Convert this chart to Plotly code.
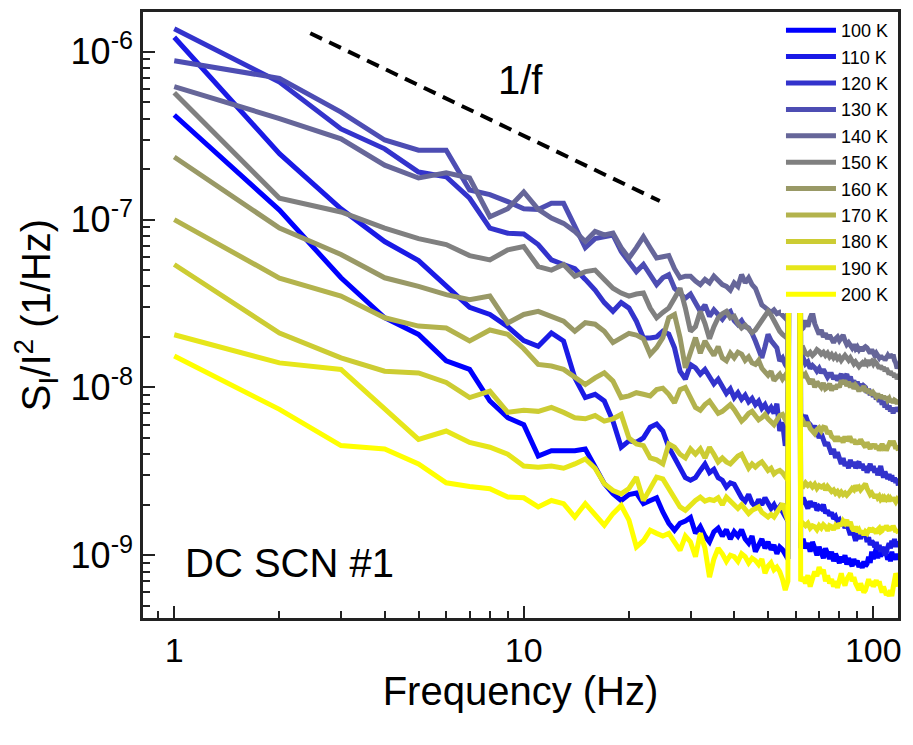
import plotly.graph_objects as go

# ---------------- data ----------------
freq = list(range(1, 119))  # Hz, 1 Hz bins

labels = ["100 K", "110 K", "120 K", "130 K", "140 K", "150 K",
          "160 K", "170 K", "180 K", "190 K", "200 K"]

s100 = [4.2e-7, 1.14e-7, 4.5e-8, 2.6e-8, 2.07e-8, 1.44e-8, 1.28e-8, 8.3e-9, 6.6e-9, 6.0e-9,
        3.9e-9, 4.2e-9, 4.2e-9, 4.2e-9, 4.3e-9, 3.3e-9, 2.67e-9, 2.33e-9, 2.12e-9, 2.3e-9,
        2.35e-9, 2.03e-9, 2.12e-9, 2.2e-9, 1.81e-9, 1.55e-9, 1.41e-9, 1.55e-9, 1.6e-9, 1.68e-9,
        1.35e-9, 1.48e-9, 1.3e-9, 1.2e-9, 1.38e-9, 1.45e-9, 1.3e-9, 1.42e-9, 1.25e-9, 1.38e-9,
        1.3e-9, 1.42e-9, 1.25e-9, 1.18e-9, 1.3e-9, 1.05e-9, 1.15e-9, 1.25e-9, 1.1e-9, 1.2e-9,
        1.08e-9, 1.15e-9, 1.02e-9, 1.12e-9, 1.08e-9, 1.0e-9, 9.5e-10,
        1e-4, 1e-4, 1e-4, 1e-4,
        1.1e-9, 1.25e-9, 1.1e-9, 1.18e-9, 1.05e-9, 1.2e-9, 1.1e-9, 1.0e-9, 1.12e-9,
        1.05e-9, 9.6e-10, 1.1e-9, 1.0e-9, 9.5e-10, 1.05e-9, 9.2e-10, 1.02e-9, 9.4e-10, 9.0e-10,
        9.8e-10, 9.1e-10, 1.0e-9, 8.8e-10, 9.6e-10, 9.0e-10, 8.6e-10, 9.5e-10, 8.8e-10, 9.3e-10,
        8.5e-10, 9.0e-10, 8.4e-10, 9.2e-10, 8.6e-10, 8.9e-10, 9.8e-10, 9.0e-10, 1.05e-9, 9.5e-10,
        1.02e-9, 1.1e-9, 9.6e-10, 1.05e-9, 9.8e-10, 1.08e-9, 1.0e-9, 1.12e-9, 1.02e-9, 9.4e-10,
        1.0e-9, 9.2e-10, 1.05e-9, 9.6e-10, 1.0e-9, 9.4e-10, 1.02e-9, 9.6e-10]

s110 = [1.22e-6, 2.47e-7, 1.16e-7, 7.4e-8, 5.7e-8, 4.0e-8, 3.0e-8, 2.72e-8, 2.3e-8, 1.9e-8,
        1.76e-8, 2.11e-8, 1.89e-8, 1.14e-8, 8.7e-9, 9.1e-9, 8.3e-9, 6.3e-9, 4.4e-9, 4.8e-9,
        4.7e-9, 5.0e-9, 5.8e-9, 6.05e-9, 5.5e-9, 4.4e-9, 3.8e-9, 3.3e-9, 2.9e-9, 2.8e-9,
        2.9e-9, 3.2e-9, 3.5e-9, 3.1e-9, 3.25e-9, 2.9e-9, 2.8e-9, 2.55e-9, 2.7e-9, 2.65e-9,
        2.4e-9, 2.2e-9, 2.1e-9, 2.3e-9, 2.05e-9, 1.95e-9, 2.15e-9, 2.0e-9, 2.2e-9, 2.05e-9,
        1.9e-9, 2.0e-9, 1.85e-9, 1.95e-9, 1.78e-9, 1.7e-9, 1.6e-9,
        1e-4, 1e-4, 1e-4, 1e-4,
        2.0e-9, 2.2e-9, 2.05e-9, 1.9e-9, 2.1e-9, 1.95e-9, 2.05e-9, 1.85e-9, 1.95e-9,
        1.9e-9, 2.0e-9, 1.78e-9, 1.85e-9, 1.72e-9, 1.8e-9, 1.65e-9, 1.7e-9, 1.58e-9, 1.62e-9,
        1.5e-9, 1.58e-9, 1.45e-9, 1.55e-9, 1.4e-9, 1.32e-9, 1.45e-9, 1.3e-9, 1.22e-9, 1.3e-9,
        1.35e-9, 1.25e-9, 1.38e-9, 1.3e-9, 1.35e-9, 1.2e-9, 1.28e-9, 1.15e-9, 1.22e-9, 1.18e-9,
        1.12e-9, 1.2e-9, 1.08e-9, 1.15e-9, 1.05e-9, 1.12e-9, 1.02e-9, 1.0e-9, 1.05e-9, 1.1e-9,
        1.18e-9, 1.1e-9, 1.22e-9, 1.15e-9, 1.25e-9, 1.12e-9, 1.2e-9, 1.15e-9]

s120 = [1.37e-6, 6.6e-7, 3.47e-7, 2.64e-7, 1.92e-7, 1.8e-7, 1.34e-7, 8.9e-8, 8.3e-8, 8.2e-8,
        7.1e-8, 5.75e-8, 5.4e-8, 5.1e-8, 4.4e-8, 3.8e-8, 3.2e-8, 2.84e-8, 3.2e-8, 2.97e-8,
        2.48e-8, 1.97e-8, 1.97e-8, 2.0e-8, 2.16e-8, 2.08e-8, 1.72e-8, 1.25e-8, 1.12e-8, 1.37e-8,
        1.31e-8, 1.2e-8, 1.28e-8, 1.15e-8, 1.05e-8, 1.12e-8, 1.0e-8, 9.2e-9, 9.8e-9, 8.7e-9,
        9.3e-9, 8.5e-9, 9.0e-9, 8.2e-9, 8.6e-9, 7.9e-9, 8.3e-9, 7.5e-9, 7.9e-9, 7.2e-9,
        7.6e-9, 7.0e-9, 8.0e-9, 5.5e-9, 6.2e-9, 4.5e-9, 5.0e-9,
        1e-4, 1e-4, 1e-4, 1e-4,
        7.0e-9, 6.5e-9, 6.8e-9, 6.2e-9, 6.0e-9, 5.6e-9, 5.9e-9, 5.3e-9, 5.0e-9,
        5.3e-9, 4.8e-9, 4.5e-9, 4.7e-9, 4.2e-9, 4.0e-9, 4.3e-9, 3.8e-9, 4.1e-9, 3.7e-9,
        3.5e-9, 3.8e-9, 3.4e-9, 3.6e-9, 3.3e-9, 3.7e-9, 3.4e-9, 3.6e-9, 3.3e-9, 3.5e-9,
        3.6e-9, 3.3e-9, 3.5e-9, 3.2e-9, 3.4e-9, 3.1e-9, 3.35e-9, 3.5e-9, 3.2e-9, 3.4e-9,
        3.1e-9, 3.3e-9, 3.0e-9, 3.2e-9, 3.4e-9, 3.1e-9, 2.9e-9, 3.15e-9, 3.0e-9, 2.85e-9,
        3.05e-9, 2.8e-9, 3.0e-9, 2.75e-9, 2.9e-9, 2.7e-9, 2.85e-9, 2.6e-9]

s130 = [8.85e-7, 6.95e-7, 4.37e-7, 2.98e-7, 2.59e-7, 2.59e-7, 1.5e-7, 1.41e-7, 1.28e-7, 1.16e-7,
        1.15e-7, 1.25e-7, 1.25e-7, 9.0e-8, 6.8e-8, 7.7e-8, 7.9e-8, 8.1e-8, 6.45e-8, 5.6e-8,
        4.9e-8, 5.4e-8, 4.7e-8, 4.1e-8, 4.5e-8, 4.7e-8, 3.9e-8, 3.6e-8, 3.4e-8, 3.6e-8,
        3.2e-8, 2.84e-8, 3.1e-8, 2.65e-8, 2.9e-8, 2.7e-8, 2.55e-8, 2.75e-8, 2.84e-8, 2.5e-8,
        2.37e-8, 2.5e-8, 2.3e-8, 2.26e-8, 2.1e-8, 1.89e-8, 1.7e-8, 1.5e-8, 1.75e-8, 2.07e-8,
        1.9e-8, 1.8e-8, 1.72e-8, 1.44e-8, 1.5e-8, 1.37e-8, 1.3e-8,
        1e-4, 1e-4, 1e-4, 1e-4,
        1.45e-8, 1.5e-8, 1.38e-8, 1.42e-8, 1.3e-8, 1.35e-8, 1.31e-8, 1.25e-8, 1.3e-8,
        1.22e-8, 1.28e-8, 1.2e-8, 1.15e-8, 1.2e-8, 1.2e-8, 1.12e-8, 1.18e-8, 1.1e-8, 1.15e-8,
        1.2e-8, 1.12e-8, 1.18e-8, 1.2e-8, 1.1e-8, 1.16e-8, 1.05e-8, 1.1e-8, 1.02e-8, 1.08e-8,
        1.0e-8, 1.05e-8, 9.6e-9, 1.02e-8, 1.0e-8, 9.3e-9, 9.8e-9, 9.0e-9, 9.5e-9, 8.8e-9,
        9.2e-9, 8.5e-9, 8.9e-9, 8.2e-9, 8.6e-9, 7.9e-9, 8.3e-9, 7.6e-9, 8.0e-9, 7.4e-9,
        7.8e-9, 7.2e-9, 7.6e-9, 7.0e-9, 7.5e-9, 7.2e-9, 7.6e-9, 7.3e-9]

s140 = [6.2e-7, 4.0e-7, 3.03e-7, 2.11e-7, 1.77e-7, 1.9e-7, 1.77e-7, 1.04e-7, 1.16e-7, 1.46e-7,
        1.15e-7, 1.02e-7, 9.5e-8, 8.5e-8, 7.4e-8, 8.5e-8, 8.1e-8, 8.3e-8, 6.8e-8, 5.9e-8,
        6.8e-8, 7.9e-8, 6.8e-8, 5.9e-8, 6.0e-8, 6.1e-8, 5.1e-8, 4.5e-8, 4.6e-8, 4.6e-8,
        4.3e-8, 4.1e-8, 4.4e-8, 4.2e-8, 4.6e-8, 4.3e-8, 4.1e-8, 4.0e-8, 3.8e-8, 4.2e-8,
        4.0e-8, 4.7e-8, 4.2e-8, 4.5e-8, 4.1e-8, 3.9e-8, 3.4e-8, 3.1e-8, 3.0e-8, 2.9e-8,
        2.8e-8, 2.9e-8, 2.75e-8, 2.8e-8, 2.7e-8, 2.6e-8, 2.5e-8,
        1e-4, 1e-4, 1e-4, 1e-4,
        2.2e-8, 2.26e-8, 2.5e-8, 2.3e-8, 2.6e-8, 2.8e-8, 2.4e-8, 2.2e-8, 2.07e-8,
        2.2e-8, 2.0e-8, 2.1e-8, 1.95e-8, 2.05e-8, 1.9e-8, 1.85e-8, 1.95e-8, 2.0e-8, 1.9e-8,
        2.0e-8, 2.05e-8, 1.9e-8, 1.8e-8, 1.85e-8, 1.75e-8, 1.72e-8, 1.8e-8, 1.7e-8, 1.75e-8,
        1.68e-8, 1.74e-8, 1.65e-8, 1.72e-8, 1.75e-8, 1.72e-8, 1.65e-8, 1.6e-8, 1.68e-8, 1.58e-8,
        1.55e-8, 1.6e-8, 1.52e-8, 1.5e-8, 1.55e-8, 1.48e-8, 1.52e-8, 1.45e-8, 1.5e-8, 1.55e-8,
        1.5e-8, 1.57e-8, 1.52e-8, 1.57e-8, 1.45e-8, 1.4e-8, 1.3e-8, 1.35e-8]

s150 = [5.7e-7, 1.34e-7, 1.11e-7, 8.9e-8, 7.7e-8, 7.1e-8, 6.1e-8, 5.75e-8, 6.6e-8, 6.9e-8,
        5.25e-8, 5.0e-8, 5.4e-8, 4.6e-8, 4.9e-8, 5.0e-8, 4.4e-8, 3.9e-8, 3.65e-8, 3.5e-8,
        3.6e-8, 3.65e-8, 2.97e-8, 2.6e-8, 2.8e-8, 2.97e-8, 3.4e-8, 3.9e-8, 2.97e-8, 2.16e-8,
        2.3e-8, 2.84e-8, 2.4e-8, 1.95e-8, 2.3e-8, 2.6e-8, 2.75e-8, 2.84e-8, 2.6e-8, 2.66e-8,
        2.4e-8, 2.26e-8, 2.35e-8, 2.2e-8, 2.12e-8, 2.2e-8, 2.35e-8, 2.5e-8, 2.7e-8, 2.84e-8,
        2.7e-8, 2.5e-8, 2.3e-8, 2.16e-8, 2.07e-8, 2.0e-8, 1.95e-8,
        1e-4, 1e-4, 1e-4, 1e-4,
        1.7e-8, 1.72e-8, 1.6e-8, 1.57e-8, 1.62e-8, 1.55e-8, 1.6e-8, 1.68e-8, 1.64e-8,
        1.58e-8, 1.62e-8, 1.55e-8, 1.6e-8, 1.52e-8, 1.57e-8, 1.5e-8, 1.55e-8, 1.48e-8, 1.52e-8,
        1.45e-8, 1.5e-8, 1.55e-8, 1.5e-8, 1.45e-8, 1.5e-8, 1.42e-8, 1.38e-8, 1.42e-8, 1.37e-8,
        1.33e-8, 1.37e-8, 1.4e-8, 1.35e-8, 1.42e-8, 1.38e-8, 1.45e-8, 1.4e-8, 1.43e-8, 1.38e-8,
        1.43e-8, 1.4e-8, 1.35e-8, 1.3e-8, 1.35e-8, 1.28e-8, 1.32e-8, 1.25e-8, 1.3e-8, 1.22e-8,
        1.2e-8, 1.25e-8, 1.18e-8, 1.22e-8, 1.15e-8, 1.2e-8, 1.12e-8, 1.18e-8]

s160 = [2.36e-7, 8.9e-8, 6.2e-8, 4.5e-8, 4.0e-8, 3.57e-8, 3.33e-8, 3.5e-8, 2.42e-8, 2.72e-8,
        2.84e-8, 2.65e-8, 2.48e-8, 2.16e-8, 2.43e-8, 2.38e-8, 2.16e-8, 1.85e-8, 1.98e-8, 2.1e-8,
        2.05e-8, 1.95e-8, 1.57e-8, 1.73e-8, 1.98e-8, 2.6e-8, 2.72e-8, 1.98e-8, 1.31e-8, 1.6e-8,
        1.98e-8, 1.6e-8, 1.89e-8, 1.7e-8, 1.55e-8, 1.75e-8, 1.5e-8, 1.44e-8, 1.6e-8, 1.5e-8,
        1.62e-8, 1.58e-8, 1.45e-8, 1.52e-8, 1.4e-8, 1.37e-8, 1.45e-8, 1.3e-8, 1.25e-8, 1.18e-8,
        1.25e-8, 1.1e-8, 1.15e-8, 1.2e-8, 1.12e-8, 1.18e-8, 1.1e-8,
        1e-4, 1e-4, 1e-4, 1e-4,
        1.25e-8, 1.15e-8, 1.2e-8, 1.1e-8, 1.05e-8, 1.12e-8, 1.0e-8, 1.08e-8, 1.02e-8,
        1.0e-8, 1.06e-8, 9.8e-9, 1.0e-8, 1.05e-8, 9.6e-9, 1.02e-8, 9.8e-9, 1.04e-8, 1.0e-8,
        1.1e-8, 1.05e-8, 1.1e-8, 1.02e-8, 1.08e-8, 1.0e-8, 1.06e-8, 9.8e-9, 1.03e-8, 1.0e-8,
        9.5e-9, 1.0e-8, 9.6e-9, 1.02e-8, 9.4e-9, 9.8e-9, 9.2e-9, 9.6e-9, 9.0e-9, 9.3e-9,
        9.1e-9, 8.8e-9, 9.2e-9, 8.7e-9, 9.0e-9, 8.6e-9, 8.9e-9, 8.5e-9, 8.8e-9, 8.4e-9,
        8.6e-9, 8.2e-9, 8.5e-9, 8.1e-9, 8.4e-9, 8.3e-9, 8.0e-9, 8.3e-9]

s170 = [1.0e-7, 4.48e-8, 3.5e-8, 2.6e-8, 2.32e-8, 2.26e-8, 1.89e-8, 2.2e-8, 2.07e-8, 1.7e-8,
        1.37e-8, 1.34e-8, 1.28e-8, 1.14e-8, 1.04e-8, 1.14e-8, 1.22e-8, 1.09e-8, 8.7e-9, 8.9e-9,
        9.3e-9, 9.1e-9, 8.9e-9, 9.7e-9, 9.9e-9, 9.1e-9, 8.1e-9, 9.7e-9, 1.0e-8, 8.7e-9,
        7.6e-9, 7.3e-9, 7.9e-9, 8.3e-9, 7.6e-9, 7.0e-9, 7.2e-9, 7.6e-9, 7.9e-9, 7.4e-9,
        6.8e-9, 6.3e-9, 6.6e-9, 7.0e-9, 7.2e-9, 6.8e-9, 6.4e-9, 6.6e-9, 6.9e-9, 6.5e-9,
        6.2e-9, 6.0e-9, 6.4e-9, 6.8e-9, 6.9e-9, 6.4e-9, 6.0e-9,
        1e-4, 1e-4, 1e-4, 1e-4,
        6.0e-9, 6.3e-9, 5.9e-9, 6.2e-9, 5.7e-9, 5.5e-9, 5.3e-9, 5.6e-9, 5.75e-9,
        5.5e-9, 5.8e-9, 5.75e-9, 5.3e-9, 5.5e-9, 5.1e-9, 5.0e-9, 4.8e-9, 5.1e-9, 4.8e-9,
        5.0e-9, 4.7e-9, 5.1e-9, 4.8e-9, 5.0e-9, 5.0e-9, 4.7e-9, 4.9e-9, 4.6e-9, 4.8e-9,
        4.6e-9, 4.9e-9, 4.7e-9, 4.6e-9, 4.4e-9, 4.7e-9, 4.5e-9, 4.3e-9, 4.6e-9, 4.4e-9,
        4.6e-9, 4.3e-9, 4.5e-9, 4.2e-9, 4.4e-9, 4.6e-9, 4.4e-9, 4.5e-9, 4.2e-9, 4.4e-9,
        4.6e-9, 4.8e-9, 4.5e-9, 4.8e-9, 4.6e-9, 4.3e-9, 4.5e-9, 4.2e-9]

s180 = [5.4e-8, 2.11e-8, 1.5e-8, 1.25e-8, 1.22e-8, 1.07e-8, 8.7e-9, 9.5e-9, 7.1e-9, 7.3e-9,
        7.2e-9, 7.6e-9, 7.1e-9, 6.6e-9, 6.5e-9, 6.8e-9, 6.3e-9, 6.5e-9, 6.9e-9, 5.0e-9,
        4.6e-9, 4.5e-9, 3.8e-9, 3.7e-9, 3.5e-9, 4.6e-9, 4.4e-9, 4.0e-9, 3.8e-9, 4.3e-9,
        4.0e-9, 4.3e-9, 3.8e-9, 4.4e-9, 4.0e-9, 3.6e-9, 3.8e-9, 3.6e-9, 3.5e-9, 3.7e-9,
        3.9e-9, 4.0e-9, 3.6e-9, 3.3e-9, 3.5e-9, 3.35e-9, 3.5e-9, 3.6e-9, 3.4e-9, 3.2e-9,
        3.3e-9, 3.05e-9, 3.15e-9, 3.2e-9, 3.1e-9, 2.9e-9, 2.8e-9,
        1e-4, 1e-4, 1e-4, 1e-4,
        2.6e-9, 2.57e-9, 2.7e-9, 2.6e-9, 2.66e-9, 2.55e-9, 2.65e-9, 2.5e-9, 2.6e-9,
        2.55e-9, 2.6e-9, 2.45e-9, 2.57e-9, 2.5e-9, 2.4e-9, 2.45e-9, 2.34e-9, 2.4e-9, 2.3e-9,
        2.38e-9, 2.3e-9, 2.35e-9, 2.28e-9, 2.34e-9, 2.4e-9, 2.5e-9, 2.45e-9, 2.6e-9, 2.5e-9,
        2.55e-9, 2.45e-9, 2.5e-9, 2.6e-9, 2.66e-9, 2.5e-9, 2.4e-9, 2.3e-9, 2.35e-9, 2.25e-9,
        2.2e-9, 2.3e-9, 2.2e-9, 2.25e-9, 2.15e-9, 2.2e-9, 2.1e-9, 2.2e-9, 2.15e-9, 2.2e-9,
        2.1e-9, 2.18e-9, 2.12e-9, 2.2e-9, 2.12e-9, 2.08e-9, 2.15e-9, 2.1e-9]

s190 = [2.06e-8, 1.4e-8, 1.28e-8, 7.4e-9, 4.9e-9, 5.5e-9, 4.7e-9, 4.4e-9, 4.0e-9, 3.4e-9,
        3.35e-9, 3.4e-9, 3.3e-9, 3.5e-9, 3.75e-9, 3.3e-9, 2.67e-9, 2.43e-9, 2.32e-9, 2.5e-9,
        2.92e-9, 2.12e-9, 2.5e-9, 2.92e-9, 2.85e-9, 2.5e-9, 2.22e-9, 1.94e-9, 1.85e-9, 2.0e-9,
        2.12e-9, 2.22e-9, 2.1e-9, 2.15e-9, 2.12e-9, 2.2e-9, 2.0e-9, 2.22e-9, 2.1e-9, 2.03e-9,
        1.9e-9, 2.0e-9, 1.85e-9, 1.77e-9, 1.85e-9, 1.9e-9, 1.94e-9, 1.8e-9, 1.75e-9, 1.69e-9,
        1.75e-9, 1.69e-9, 1.8e-9, 1.9e-9, 2.03e-9, 1.8e-9, 1.6e-9,
        1e-4, 1e-4, 1e-4, 1e-4,
        1.6e-9, 1.55e-9, 1.5e-9, 1.55e-9, 1.45e-9, 1.5e-9, 1.48e-9, 1.42e-9, 1.5e-9,
        1.45e-9, 1.52e-9, 1.48e-9, 1.4e-9, 1.5e-9, 1.48e-9, 1.42e-9, 1.5e-9, 1.45e-9, 1.55e-9,
        1.5e-9, 1.6e-9, 1.55e-9, 1.62e-9, 1.5e-9, 1.58e-9, 1.45e-9, 1.4e-9, 1.48e-9, 1.38e-9,
        1.42e-9, 1.35e-9, 1.4e-9, 1.32e-9, 1.38e-9, 1.35e-9, 1.4e-9, 1.45e-9, 1.38e-9, 1.42e-9,
        1.4e-9, 1.35e-9, 1.42e-9, 1.45e-9, 1.38e-9, 1.4e-9, 1.48e-9, 1.42e-9, 1.5e-9, 1.45e-9,
        1.4e-9, 1.48e-9, 1.42e-9, 1.5e-9, 1.45e-9, 1.38e-9, 1.42e-9, 1.35e-9]

s200 = [1.54e-8, 7.4e-9, 4.5e-9, 4.3e-9, 3.5e-9, 2.7e-9, 2.57e-9, 2.49e-9, 2.22e-9, 2.2e-9,
        1.94e-9, 2.12e-9, 2.03e-9, 1.69e-9, 2.03e-9, 1.73e-9, 1.51e-9, 1.77e-9, 1.98e-9, 1.62e-9,
        1.12e-9, 1.22e-9, 1.41e-9, 1.35e-9, 1.3e-9, 1.35e-9, 1.2e-9, 1.07e-9, 1.3e-9, 1.2e-9,
        9.8e-10, 1.35e-9, 1.1e-9, 7.4e-10, 9.5e-10, 1.1e-9, 1.02e-9, 9.2e-10, 1.0e-9, 9.8e-10,
        9.2e-10, 1.02e-9, 9.8e-10, 9.0e-10, 9.6e-10, 9.3e-10, 8.8e-10, 9.5e-10, 7.8e-10, 8.6e-10,
        9.0e-10, 8.2e-10, 8.5e-10, 8.0e-10, 7.2e-10, 6.2e-10, 7.0e-10,
        1e-4, 1e-4, 1e-4, 1e-4,
        7.0e-10, 7.4e-10, 6.8e-10, 7.6e-10, 6.5e-10, 7.2e-10, 8.0e-10, 7.5e-10, 8.5e-10,
        7.8e-10, 8.2e-10, 7.0e-10, 7.6e-10, 6.8e-10, 7.2e-10, 6.5e-10, 7.0e-10, 6.4e-10, 7.4e-10,
        7.8e-10, 7.0e-10, 6.6e-10, 7.2e-10, 7.6e-10, 7.8e-10, 7.0e-10, 7.4e-10, 6.8e-10, 6.5e-10,
        6.2e-10, 6.8e-10, 6.4e-10, 6.0e-10, 6.2e-10, 6.8e-10, 7.2e-10, 6.6e-10, 7.0e-10, 6.5e-10,
        6.8e-10, 7.1e-10, 6.6e-10, 7.0e-10, 6.4e-10, 6.0e-10, 6.5e-10, 6.2e-10, 5.8e-10, 6.0e-10,
        5.7e-10, 6.2e-10, 5.7e-10, 6.4e-10, 7.0e-10, 7.8e-10, 7.4e-10, 6.5e-10]

series = [s100, s110, s120, s130, s140, s150, s160, s170, s180, s190, s200]

colors = ["#0000ff", "#1a1ae6", "#3333cc", "#4d4db3", "#666699", "#808080",
          "#999966", "#b3b34d", "#cccc33", "#e6e61a", "#ffff00"]

# y tick labels (plain hyphen minus, as in the original)
ytick_vals = [1e-9, 1e-8, 1e-7, 1e-6]
ytick_text = ["10<sup>-9</sup>", "10<sup>-8</sup>", "10<sup>-7</sup>", "10<sup>-6</sup>"]
ytick_minor = [m * v for v in [1e-10, 1e-9, 1e-8, 1e-7, 1e-6] for m in range(2, 10)]

# 1/f guide line
guide_f = [2.45, 24.5]
guide_s = [1.29e-6, 1.29e-7]

FONT = "Arial, Liberation Sans, Helvetica, sans-serif"

fig = go.Figure()
for name, vals, col in zip(labels, series, colors):
    n = min(len(freq), len(vals))
    fig.add_trace(go.Scatter(x=freq[:n], y=vals[:n], mode="lines", name=name,
                             line=dict(color=col, width=5), hoverinfo="skip"))

fig.add_trace(go.Scatter(x=guide_f, y=guide_s, mode="lines", showlegend=False,
                         line=dict(color="black", width=4, dash="13px,8px"),
                         hoverinfo="skip"))

axis_common = dict(
    type="log", showgrid=False, zeroline=False,
    showline=True, linewidth=2.5, linecolor="#222", mirror=True,
    ticks="inside", ticklen=12, tickwidth=2, tickcolor="#222",
)

# page body adds an 8 px offset; figure is sized to fit the 913x745 window
fig.update_layout(
    width=905, height=737,
    margin=dict(l=135, r=15, t=1, b=127),
    paper_bgcolor="white", plot_bgcolor="white",
    font=dict(family=FONT, color="black"),
    xaxis=dict(axis_common, range=[-0.0894, 2.0708], dtick=1, exponentformat="none",
               minor=dict(ticks="inside", ticklen=7, tickwidth=2, tickcolor="#222",
                          dtick="D1", showgrid=False),
               tickfont=dict(size=34, family=FONT, color="black"),
               title=dict(text="Frequency (Hz)", font=dict(size=40, family=FONT),
                          standoff=8)),
    yaxis=dict(axis_common, range=[-9.374, -5.763], tickmode="array",
               tickvals=ytick_vals, ticktext=ytick_text,
               minor=dict(ticks="inside", ticklen=7, tickwidth=2, tickcolor="#222",
                          tickmode="array", tickvals=ytick_minor, showgrid=False),
               tickfont=dict(size=36, family=FONT, color="black"),
               title=dict(text="S<sub>I</sub>/I<sup>2</sup> (1/Hz)",
                          font=dict(size=40, family=FONT), standoff=10)),
    legend=dict(x=0.845, xanchor="left", y=1.0, yanchor="top",
                bgcolor="white", borderwidth=0, itemwidth=50,
                font=dict(size=18, family=FONT, color="black"),
                tracegroupgap=0),
    showlegend=True,
    annotations=[
        dict(text="1/f", x=0.5, y=0.888, xref="paper", yref="paper",
             xanchor="center", yanchor="middle", showarrow=False,
             font=dict(size=40, family=FONT, color="black")),
        dict(text="DC SCN #1", x=0.053, y=0.09, xref="paper", yref="paper",
             xanchor="left", yanchor="middle", showarrow=False,
             font=dict(size=40, family=FONT, color="black")),
    ],
)

fig.write_html("out.html")
